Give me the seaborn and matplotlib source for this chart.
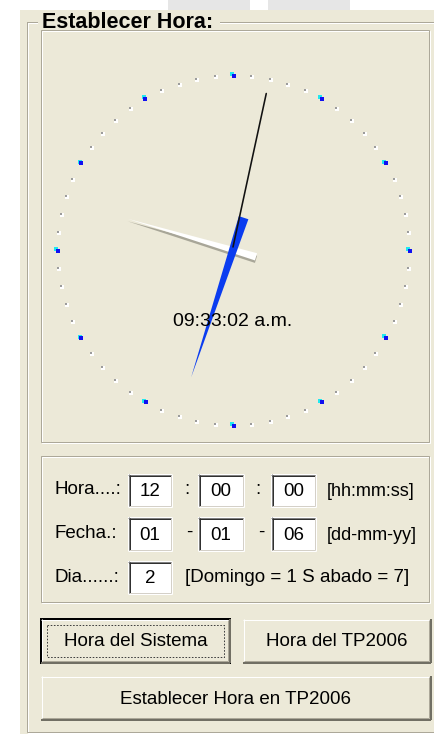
import numpy as np
import pandas as pd
import matplotlib
matplotlib.use("Agg")
import matplotlib.pyplot as plt
from matplotlib.patches import Rectangle, Polygon
import seaborn as sns

# clock state shown in the dialog
hour, minute, second = 9, 33, 2
clock_text = "09:33:02 a.m."

# form fields
row_labels = ["Hora....:", "Fecha.:", "Dia......:"]
hora_vals = ["12", "00", "00"]
fecha_vals = ["01", "01", "06"]
dia_val = "2"
hora_sep = ":"
fecha_sep = "-"
hora_hint = "[hh:mm:ss]"
fecha_hint = "[dd-mm-yy]"
dia_hint = "[Domingo = 1 S abado = 7]"
title = "Establecer Hora:"
buttons = ["Hora del Sistema", "Hora del TP2006", "Establecer Hora en TP2006"]

BEIGE = "#ECE9D8"
ETCH = "#ACA899"
FONT = ["Liberation Sans", "DejaVu Sans"]

sns.set_theme(style="white")
plt.rcParams["font.family"] = FONT

fig = plt.figure(figsize=(4.34, 7.34), dpi=100, facecolor="white")
ax = fig.add_axes([0, 0, 1, 1])
ax.set_xlim(0, 434)
ax.set_ylim(734, 0)
ax.axis("off")

px = 0.72  # one pixel in points


def hline(x0, x1, y, c, lw=1):
    ax.plot([x0, x1], [y, y], color=c, lw=lw * px, solid_capstyle="butt")


def vline(x, y0, y1, c, lw=1):
    ax.plot([x, x], [y0, y1], color=c, lw=lw * px, solid_capstyle="butt")


def etched(x0, y0, x1, y1):
    for off, c in [(1, "white"), (0, ETCH)]:
        ax.add_patch(Rectangle((x0 + off, y0 + off), x1 - x0, y1 - y0,
                               fill=False, ec=c, lw=px))


def textbox(x0, y0, x1, y1, s):
    ax.add_patch(Rectangle((x0, y0), x1 - x0, y1 - y0, fc="white", ec="none"))
    hline(x0, x1, y0 + 0.5, "#808080")
    vline(x0 + 0.5, y0, y1, "#808080")
    hline(x0 + 1, x1 - 1, y0 + 1.5, "#303030")
    vline(x0 + 1.5, y0 + 1, y1 - 1, "#303030")
    hline(x0, x1, y1 - 0.5, "white")
    vline(x1 - 0.5, y0, y1, "white")
    hline(x0 + 1, x1 - 1, y1 - 1.5, "#D4D0C8")
    vline(x1 - 1.5, y0 + 1, y1 - 1, "#D4D0C8")
    ax.text((x0 + x1) / 2, (y0 + y1) / 2 + 1, s, ha="center", va="center",
            fontsize=13.5, color="black")


def button(x0, y0, x1, y1, s, focus=False):
    ax.add_patch(Rectangle((x0, y0), x1 - x0, y1 - y0, fc=BEIGE, ec="none"))
    hline(x0, x1, y0 + 0.5, "white")
    vline(x0 + 0.5, y0, y1, "white")
    hline(x0, x1, y1 - 0.5, "#716F64", 2)
    vline(x1 - 0.5, y0, y1, "#716F64", 2)
    hline(x0 + 1, x1 - 2, y1 - 2, "#ACA899")
    vline(x1 - 2, y0 + 1, y1 - 2, "#ACA899")
    if focus:
        ax.add_patch(Rectangle((x0, y0), x1 - x0, y1 - y0, fill=False,
                               ec="black", lw=2 * px))
        ax.add_patch(Rectangle((x0 + 6, y0 + 6), x1 - x0 - 12, y1 - y0 - 12,
                               fill=False, ec="#404040", lw=px,
                               ls=(0, (1.6, 1.6))))
    ax.text((x0 + x1) / 2, (y0 + y1) / 2 + 1, s, ha="center", va="center",
            fontsize=13.5, color="black")


# top strip with tabs, dialog background
ax.add_patch(Rectangle((168, 0), 82, 10, fc="#E6E6E6", ec="none"))
ax.add_patch(Rectangle((268, 0), 82, 10, fc="#E6E6E6", ec="none"))
ax.add_patch(Rectangle((20, 10), 414, 724, fc=BEIGE, ec="none"))

# group box
etched(27, 22, 440, 732)
ax.add_patch(Rectangle((38, 12), 182, 20, fc=BEIGE, ec="none"))
ax.text(42, 23, title, ha="left", va="center", fontsize=15.5,
        fontweight="bold", color="black")

# clock panel
etched(41, 30, 429, 442)
cx, cy, rx, ry = 233, 250, 176, 175

ticks = pd.DataFrame({"tick": np.arange(60)})
ang = np.deg2rad(ticks["tick"] * 6)
ticks["x"] = cx + rx * np.sin(ang)
ticks["y"] = cy - ry * np.cos(ang)
ticks["kind"] = np.where(ticks["tick"] % 5 == 0, "hour", "minute")
hours = ticks[ticks["kind"] == "hour"]
mins = ticks[ticks["kind"] == "minute"]

sns.scatterplot(x=mins["x"] + 1, y=mins["y"] + 1, ax=ax, color="white",
                marker="s", s=5, linewidth=0, legend=False)
sns.scatterplot(x=mins["x"], y=mins["y"], ax=ax, color="#9C9C9C",
                marker="s", s=4.5, linewidth=0, legend=False)
sns.scatterplot(x=hours["x"] - 1, y=hours["y"] - 1, ax=ax, color="#20E8F0",
                marker="s", s=8, linewidth=0, legend=False)
sns.scatterplot(x=hours["x"] + 0.5, y=hours["y"] + 0.5, ax=ax, color="#1010F0",
                marker="s", s=8, linewidth=0, legend=False)

ax.text(cx, 321, clock_text, ha="center", va="center", fontsize=14,
        color="black")


def hand(angle, back, fwd, width, shift=(0, 0)):
    a = np.deg2rad(angle)
    u = np.array([np.sin(a), -np.cos(a)])
    n = np.array([np.cos(a), np.sin(a)])
    c = np.array([cx + shift[0], cy + shift[1]])
    b = c - back * u
    return [b + width / 2 * n, b - width / 2 * n, c + fwd * u]


hour_ang = (hour % 12) * 30 + minute * 0.5
min_ang = minute * 6 + second * 0.1
sec_ang = second * 6

ax.add_patch(Polygon(hand(hour_ang, 24, 110, 7.5, (0, 2.5)), fc="#A8A698", ec="none"))
ax.add_patch(Polygon(hand(hour_ang, 24, 110, 7.5), fc="white", ec="none"))
ax.add_patch(Polygon(hand(min_ang, 34, 134, 10), fc="#0A3CF0", ec="none"))
a = np.deg2rad(sec_ang)
ax.plot([cx, cx + 160 * np.sin(a)], [cy - 3, cy - 160 * np.cos(a)],
        color="#111111", lw=1.6 * px)

# fields panel
etched(41, 456, 429, 602)
row_y = [490, 534, 577]
box_x = [(128, 172), (198, 244), (271, 316)]
for lbl, y in zip(row_labels, row_y):
    ax.text(55, y, lbl, ha="left", va="center", fontsize=13.5, color="black")
for (x0, x1), v in zip(box_x, hora_vals):
    textbox(x0, 474, x1, 507, v)
for (x0, x1), v in zip(box_x, fecha_vals):
    textbox(x0, 517, x1, 551, v)
textbox(128, 561, 172, 594, dia_val)
for x in [187, 258]:
    ax.text(x, 490, hora_sep, ha="center", va="center", fontsize=13.5, color="black")
for x in [189, 261]:
    ax.text(x, 532, fecha_sep, ha="center", va="center", fontsize=13.5, color="black")
ax.text(327, 492, hora_hint, ha="left", va="center", fontsize=13, color="black")
ax.text(327, 535, fecha_hint, ha="left", va="center", fontsize=13, color="black")
ax.text(185, 577, dia_hint, ha="left", va="center", fontsize=13.5, color="black")

# buttons
button(41, 619, 230, 663, buttons[0], focus=True)
button(243, 619, 431, 663, buttons[1])
button(41, 676, 431, 720, buttons[2])

fig.savefig("out.png", dpi=100, facecolor="white")
